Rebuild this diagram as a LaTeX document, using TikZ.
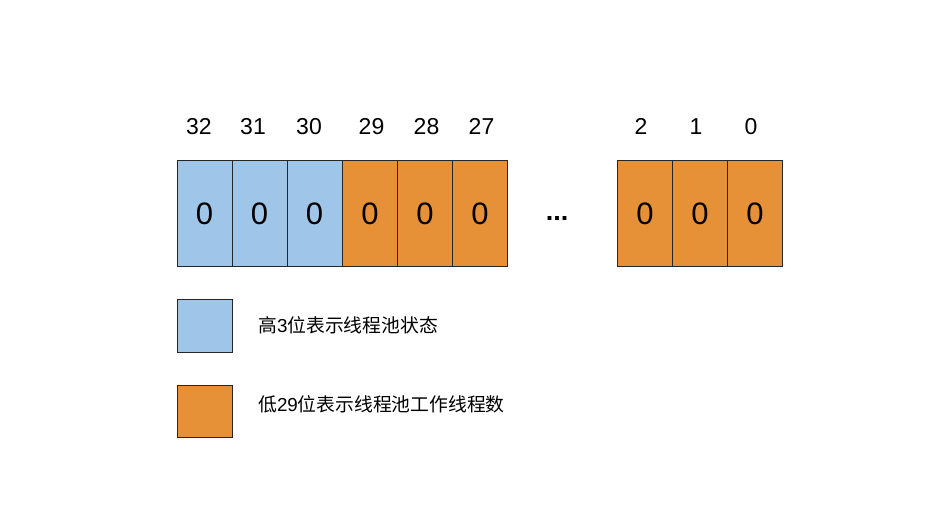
\documentclass[tikz,border=0pt]{standalone}
\usepackage{fontspec}
\setmainfont{Liberation Sans}
\newfontfamily\cjk{Noto Sans CJK SC}
\definecolor{bitblue}{HTML}{9FC5E8}
\definecolor{bitorange}{HTML}{E69138}
\begin{document}
\begin{tikzpicture}[x=1pt,y=-1pt,
  bitbox/.style={draw=black!85, line width=0.9pt, minimum width=55pt, minimum height=105.5pt, inner sep=0pt, anchor=north west},
  zero/.style={font=\fontsize{31}{31}\selectfont, anchor=base},
  idx/.style={font=\fontsize{23}{23}\selectfont, anchor=base},
  legbox/.style={draw=black!85, line width=0.9pt, minimum width=55pt, minimum height=52pt, inner sep=0pt, anchor=north west},
  legtxt/.style={font=\fontsize{18.8}{18.8}\selectfont, anchor=base west, inner sep=0pt}]
\useasboundingbox[fill=white] (0,0) rectangle (952,526);
% left group
\node[bitbox, fill=bitblue] (b32) at (177,160.5) {};
\node[bitbox, fill=bitblue] (b31) at (232,160.5) {};
\node[bitbox, fill=bitblue] (b30) at (287,160.5) {};
\node[bitbox, fill=bitorange] (b29) at (342.3,160.5) {};
\node[bitbox, fill=bitorange] (b28) at (397.3,160.5) {};
\node[bitbox, fill=bitorange] (b27) at (452.3,160.5) {};
% right group
\node[bitbox, fill=bitorange] (b2) at (617.3,160.5) {};
\node[bitbox, fill=bitorange] (b1) at (672.3,160.5) {};
\node[bitbox, fill=bitorange] (b0) at (727.3,160.5) {};
% zeros
\foreach \n/\x in {z32/204.5,z31/259.5,z30/314.5,z29/370,z28/425,z27/480,z2/645,z1/700,z0/755}
  \node[zero] (\n) at (\x,225) {0};
% index labels
\foreach \n/\x/\t in {l32/199/32,l31/253/31,l30/309/30,l29/371.5/29,l28/426.5/28,l27/481.5/27,l2/641/2,l1/696/1,l0/751/0}
  \node[idx] (\n) at (\x,135) {\t};
% dots
\node[font=\fontsize{27}{27}\selectfont\bfseries, anchor=base] (dots) at (557,221) {...};
% legend
\node[legbox, fill=bitblue] (lg1) at (176.5,299.5) {};
\node[legbox, fill=bitorange] (lg2) at (176.5,384.5) {};
\node[legtxt] (t1) at (258,332) {{\cjk 高}3{\cjk 位表示线程池状态}};
\node[legtxt] (t2) at (258,411.5) {{\cjk 低}29{\cjk 位表示线程池工作线程数}};
\end{tikzpicture}
\end{document}
